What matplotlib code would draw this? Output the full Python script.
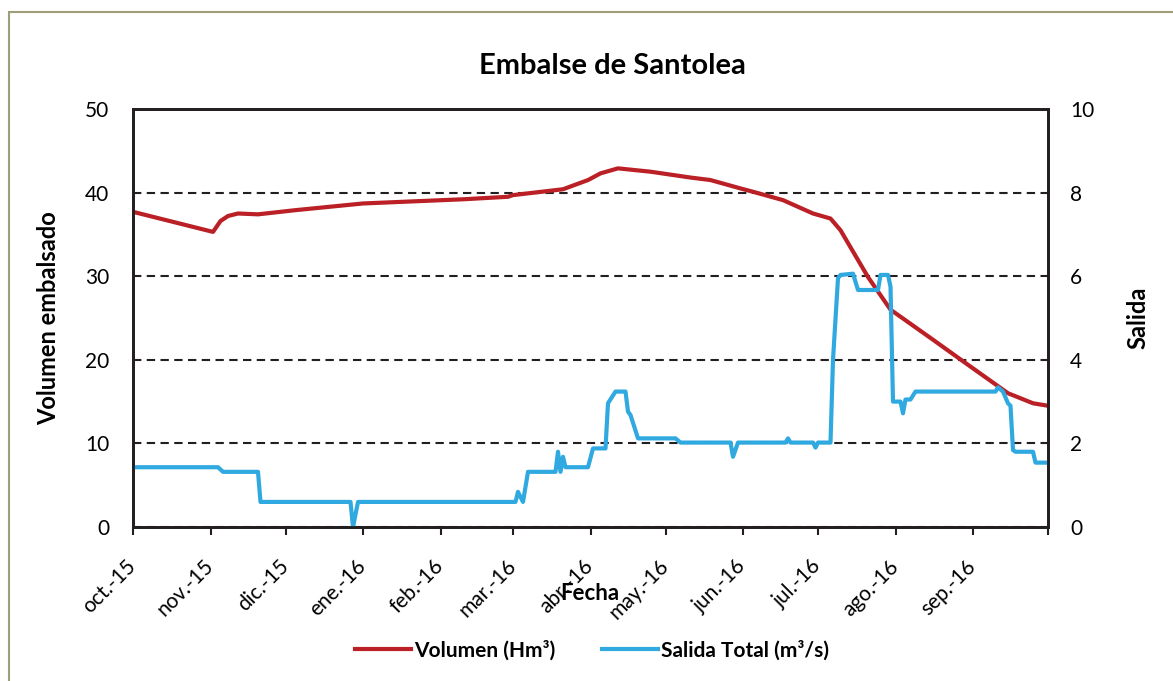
import pandas as pd
import numpy as np
import matplotlib
matplotlib.use("Agg")
import matplotlib.pyplot as plt
import matplotlib.transforms as mtransforms
from matplotlib.patches import Rectangle

plt.rcParams['font.family'] = ['Lato', 'DejaVu Sans']

# --- data (breakpoints of each line) ---
vol_dates = ['2015-10-01', '2015-11-02', '2015-11-05', '2015-11-08', '2015-11-12',
             '2015-11-20', '2015-12-05', '2016-01-01', '2016-02-10', '2016-02-28',
             '2016-03-01', '2016-03-21', '2016-03-31', '2016-04-05', '2016-04-12',
             '2016-04-25', '2016-05-11', '2016-05-19', '2016-05-31', '2016-06-05',
             '2016-06-17', '2016-06-29', '2016-07-06', '2016-07-10', '2016-07-21',
             '2016-07-30', '2016-08-16', '2016-08-30', '2016-09-15', '2016-09-25',
             '2016-10-01']
vol_values = [37.7, 35.3, 36.6, 37.2, 37.5,
              37.4, 37.9, 38.7, 39.2, 39.5,
              39.7, 40.4, 41.5, 42.3, 42.9,
              42.5, 41.8, 41.5, 40.5, 40.1,
              39.1, 37.5, 36.9, 35.5, 29.9,
              26.0, 22.4, 19.4, 16.0, 14.8,
              14.5]

sal_dates = ['2015-10-01', '2015-11-04', '2015-11-06', '2015-11-20', '2015-11-21',
             '2015-12-27', '2015-12-28', '2015-12-30', '2016-03-02', '2016-03-03',
             '2016-03-05', '2016-03-07', '2016-03-18', '2016-03-19', '2016-03-20',
             '2016-03-21', '2016-03-22', '2016-03-31', '2016-04-02', '2016-04-07',
             '2016-04-08', '2016-04-11', '2016-04-15', '2016-04-16', '2016-04-17',
             '2016-04-20', '2016-05-05', '2016-05-07', '2016-05-27', '2016-05-28',
             '2016-05-30', '2016-06-18', '2016-06-19', '2016-06-20', '2016-06-29',
             '2016-06-30', '2016-07-01', '2016-07-06', '2016-07-07', '2016-07-09',
             '2016-07-10', '2016-07-15', '2016-07-17', '2016-07-25', '2016-07-26',
             '2016-07-29', '2016-07-30', '2016-07-31', '2016-08-03', '2016-08-04',
             '2016-08-05', '2016-08-07', '2016-08-09', '2016-09-10', '2016-09-11',
             '2016-09-13', '2016-09-15', '2016-09-16', '2016-09-17', '2016-09-18',
             '2016-09-25', '2016-09-26', '2016-10-01']
sal_values = [1.43, 1.43, 1.32, 1.32, 0.60,
              0.60, 0.00, 0.60, 0.60, 0.84,
              0.60, 1.32, 1.32, 1.80, 1.32,
              1.68, 1.43, 1.43, 1.88, 1.88,
              2.96, 3.24, 3.24, 2.76, 2.68,
              2.12, 2.12, 2.02, 2.02, 1.68,
              2.02, 2.02, 2.12, 2.02, 2.02,
              1.90, 2.02, 2.02, 4.00, 5.95,
              6.03, 6.06, 5.67, 5.67, 6.03,
              6.03, 5.75, 3.00, 3.00, 2.72,
              3.05, 3.05, 3.24, 3.24, 3.34,
              3.24, 2.96, 2.90, 1.84, 1.80,
              1.80, 1.54, 1.54]

month_labels = ['oct.-15', 'nov.-15', 'dic.-15', 'ene.-16', 'feb.-16', 'mar.-16',
                'abr.-16', 'may.-16', 'jun.-16', 'jul.-16', 'ago.-16', 'sep.-16', '']

vol_x = pd.to_datetime(vol_dates)
sal_x = pd.to_datetime(sal_dates)
month_ticks = pd.date_range('2015-10-01', '2016-10-01', freq='MS')

red = '#BA2025'
blue = '#2FA9E0'
dark = '#231F20'

W, H = 1173, 681
fig = plt.figure(figsize=(W / 100, H / 100), dpi=100)

# outer chart frame
fig.patches.append(Rectangle((9 / W, -0.05), 1.2, 1 - 12 / H + 0.05,
                             transform=fig.transFigure, fill=False,
                             edgecolor='#9E9E78', linewidth=1.5))

ax = fig.add_axes([133 / W, 1 - 527 / H, 915 / W, 418 / H])
ax2 = ax.twinx()

ax.plot(vol_x, vol_values, color=red, linewidth=3, label='Volumen (Hm³)',
        solid_joinstyle='round')
ax2.plot(sal_x, sal_values, color=blue, linewidth=3, label='Salida Total (m³/s)',
         solid_joinstyle='round')

ax.set_xlim(pd.Timestamp('2015-10-01'), pd.Timestamp('2016-10-01'))
ax.set_ylim(0, 50)
ax2.set_ylim(0, 10)
ax.set_yticks([0, 10, 20, 30, 40, 50])
ax2.set_yticks([0, 2, 4, 6, 8, 10])

ax.yaxis.grid(True, color=dark, linestyle=(0, (4, 2.6)), linewidth=1.5)
ax.set_axisbelow(True)

ax.set_xticks(month_ticks)
ax.set_xticklabels(month_labels, rotation=45, ha='right', va='center',
                   rotation_mode='anchor')
shift = mtransforms.ScaledTranslation(4 / 72, 0, fig.dpi_scale_trans)
for lab in ax.get_xticklabels():
    lab.set_transform(lab.get_transform() + shift)

for a in (ax, ax2):
    for sp in a.spines.values():
        sp.set_color(dark)
        sp.set_linewidth(2)
    a.tick_params(axis='y', length=0, labelsize=15, colors='black')
ax.tick_params(axis='y', pad=17)
ax2.tick_params(axis='y', pad=16)
ax.tick_params(axis='x', length=6, width=1.5, color=dark, labelsize=15, pad=20)

ax.set_ylabel('Volumen embalsado', fontsize=17, fontweight='bold', labelpad=18)
ax2.set_ylabel('Salida', fontsize=17, fontweight='bold', labelpad=23)

fig.text(590 / W, 1 - 594 / H, 'Fecha', fontsize=16, fontweight='bold',
         ha='center', va='center')
fig.text(612 / W, 1 - 66 / H, 'Embalse de Santolea', fontsize=21,
         fontweight='bold', ha='center', va='center')

h1, l1 = ax.get_legend_handles_labels()
h2, l2 = ax2.get_legend_handles_labels()
fig.legend(h1 + h2, l1 + l2, loc='center', bbox_to_anchor=(592 / W, 1 - 650 / H),
           ncol=2, frameon=False, prop={'weight': 'bold', 'size': 15},
           handlelength=2.7, handletextpad=0.15, columnspacing=2.2)

fig.savefig('out.png', dpi=100)
